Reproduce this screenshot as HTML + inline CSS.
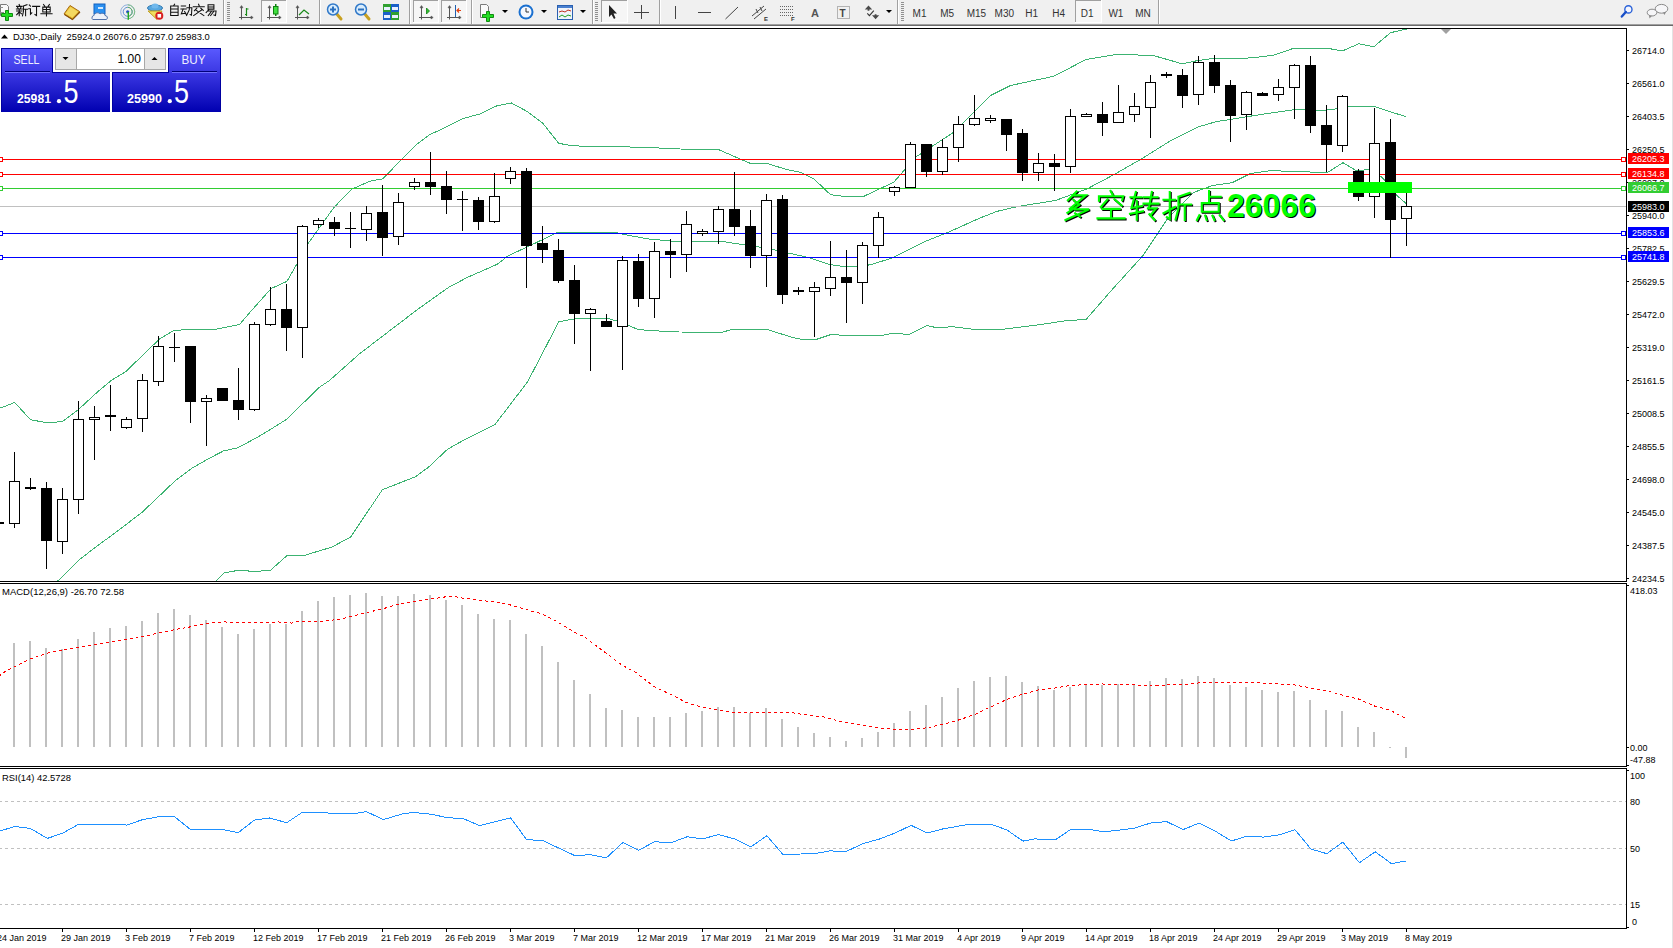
<!DOCTYPE html><html><head><meta charset="utf-8"><title>DJ30 Daily</title><style>
html,body{margin:0;padding:0;width:1673px;height:948px;overflow:hidden;background:#fff}
body{position:relative;font-family:"Liberation Sans",sans-serif}
svg{position:absolute;left:0;top:0}
.t{font-family:"Liberation Sans",sans-serif;font-size:9px;fill:#000}
</style></head><body>
<svg width="1673" height="948" viewBox="0 0 1673 948">
<g shape-rendering="crispEdges">
<rect x="0" y="0" width="1673" height="24" fill="#f0f0f0"/>
<rect x="0" y="24" width="1673" height="1" fill="#a0a0a0"/>
<rect x="0" y="25" width="1673" height="1" fill="#6a6a6a"/>
<rect x="1672" y="26" width="1" height="922" fill="#e3e3e3"/>
</g>
<g id="toolbar"><path d="M0.5,4.5 H6.5 L8.5,6.5 V15.5 H0.5 Z" fill="#fafafa" stroke="#7a7a7a"/>
<rect x="0" y="7" width="3" height="1" fill="#909090"/><rect x="0" y="12" width="4" height="1" fill="#909090"/>
<path d="M5.5,10.5 H8.5 V13.5 H12.5 V16.5 H8.5 V20.5 H5.5 V16.5 H1.5 V13.5 H5.5 Z" fill="#22dd22" stroke="#108a10"/>
<path d="M19.14,4.49 L19.72,5.77 M16.59,6.36 L22.08,6.36 M17.57,7.34 L18.16,8.51 M20.90,7.34 L20.31,8.51 M16.39,8.90 L22.27,8.90 M16.59,11.06 L21.88,11.06 M19.23,8.90 L19.23,15.76 M19.04,12.04 L16.59,14.78 M19.53,12.24 L21.68,13.80 M26.98,4.79 L23.45,6.06 M23.45,6.06 L23.45,11.55 L22.47,15.76 M23.45,9.30 L27.56,9.30 M25.60,9.30 L25.60,15.76" fill="none" stroke="#101010" stroke-width="1.05" stroke-linecap="square" stroke-linejoin="miter" />
<path d="M29.28,4.98 L30.46,6.16 M28.69,8.71 L30.46,8.71 L30.46,14.20 L31.83,12.82 M32.61,6.36 L39.67,6.36 M36.53,6.36 L36.53,15.57 L34.96,14.59" fill="none" stroke="#101010" stroke-width="1.05" stroke-linecap="square" stroke-linejoin="miter" />
<path d="M43.54,4.49 L44.72,6.16 M49.42,4.49 L48.24,6.16 M42.76,7.14 L50.20,7.14 L50.20,12.04 L42.76,12.04 L42.76,7.14 M42.76,9.59 L50.20,9.59 M46.48,7.14 L46.48,15.86 M40.89,13.80 L52.07,13.80" fill="none" stroke="#101010" stroke-width="1.05" stroke-linecap="square" stroke-linejoin="miter" />
<path d="M70,5.5 L79.5,11.5 L72.5,19.5 L64,14 Z" fill="#e8c030" stroke="#a86a10" stroke-width="1"/>
<path d="M70.5,7 L78,11.8 L72.5,17.5 L65.5,13.6 Z" fill="#f4d860"/>
<path d="M64.5,14.5 L72.5,19.5 L80,12" fill="none" stroke="#8a5008" stroke-width="1.2"/>
<rect x="94" y="4" width="11" height="10" fill="#2a90f0" stroke="#1060c0" stroke-width="1"/>
<rect x="98" y="7" width="5" height="2" fill="#d0e8ff"/>
<path d="M93,19.5 C91.5,19.5 91.5,15.5 94,15.5 C94.5,12.5 98.5,12 100,14 C101.5,12.5 104.5,13 105,15.5 C108,15.5 108,19.5 106,19.5 Z" fill="#eef2fa" stroke="#5070a8" stroke-width="1"/>
<circle cx="127.7" cy="11.8" r="7" fill="none" stroke="#8fb0e0" stroke-width="1"/>
<path d="M127.7,4.8 A7,7 0 0 1 127.7,18.8" fill="none" stroke="#80c080" stroke-width="1"/>
<circle cx="127.7" cy="11.8" r="4.5" fill="none" stroke="#6090d8" stroke-width="1"/>
<path d="M127.7,7.3 A4.5,4.5 0 0 1 127.7,16.3" fill="none" stroke="#60b060" stroke-width="1"/>
<circle cx="127.7" cy="11.8" r="1.6" fill="#2050c0"/>
<path d="M128.3,12 V19.8" fill="none" stroke="#22aa22" stroke-width="1.4"/>
<ellipse cx="155" cy="8" rx="7.5" ry="3" fill="#58a8e0" stroke="#3078b0" stroke-width="1"/>
<ellipse cx="155" cy="6" rx="3.5" ry="2.5" fill="#70b8ec"/>
<path d="M148,11 L162,11 L157,19.5 Z" fill="#f0e060" stroke="#c0a020" stroke-width="1"/>
<circle cx="159.3" cy="15.8" r="4" fill="#d82020"/>
<rect x="157.5" y="14" width="3.6" height="3.6" fill="#fff"/>
<path d="M174.58,4.20 L173.60,5.77 M170.66,5.96 L178.10,5.96 L178.10,15.57 L170.66,15.57 L170.66,5.96 M170.66,9.00 L178.10,9.00 M170.66,12.24 L178.10,12.24" fill="none" stroke="#101010" stroke-width="1.05" stroke-linecap="square" stroke-linejoin="miter" />
<path d="M181.29,5.96 L185.60,5.96 M180.90,8.90 L186.19,8.90 M183.25,8.90 L181.29,13.80 L185.80,13.22 M184.62,11.45 L186.19,14.39 M186.97,7.73 L191.87,7.73 L191.48,15.18 L190.11,14.59 M189.52,4.59 L189.32,9.69 L186.58,15.57" fill="none" stroke="#101010" stroke-width="1.05" stroke-linecap="square" stroke-linejoin="miter" />
<path d="M198.58,4.20 L199.17,5.77 M193.29,6.75 L204.27,6.75 M196.82,8.12 L194.47,10.67 M200.74,8.12 L203.29,10.47 M196.04,10.08 L203.88,15.57 M201.52,10.08 L193.68,15.57" fill="none" stroke="#101010" stroke-width="1.05" stroke-linecap="square" stroke-linejoin="miter" />
<path d="M208.04,4.79 L213.92,4.79 L213.92,9.10 L208.04,9.10 L208.04,4.79 M208.04,6.94 L213.92,6.94 M209.02,9.49 L206.08,12.63 M208.43,11.06 L216.08,11.06 L215.49,15.57 L213.92,14.98 M211.18,11.65 L208.24,15.57 M213.53,11.65 L210.59,15.57" fill="none" stroke="#101010" stroke-width="1.05" stroke-linecap="square" stroke-linejoin="miter" />
<rect x="223" y="0" width="1" height="24" fill="#a0a0a0"/><rect x="224" y="0" width="1" height="24" fill="#ffffff"/>
<rect x="227" y="2" width="3" height="1" fill="#909090"/>
<rect x="227" y="4" width="3" height="1" fill="#909090"/>
<rect x="227" y="6" width="3" height="1" fill="#909090"/>
<rect x="227" y="8" width="3" height="1" fill="#909090"/>
<rect x="227" y="10" width="3" height="1" fill="#909090"/>
<rect x="227" y="12" width="3" height="1" fill="#909090"/>
<rect x="227" y="14" width="3" height="1" fill="#909090"/>
<rect x="227" y="16" width="3" height="1" fill="#909090"/>
<rect x="227" y="18" width="3" height="1" fill="#909090"/>
<rect x="227" y="20" width="3" height="1" fill="#909090"/>
<path d="M241.5,6.5 V19.5 M239.0,17.5 H252.0" fill="none" stroke="#555" stroke-width="1"/>
<path d="M240.0,7.8 L241.5,5.6 L243.0,7.8 Z" fill="#555" stroke="#555" stroke-width="0.6"/>
<path d="M251.0,16 L253.2,17.5 L251.0,19 Z" fill="#555" stroke="#555" stroke-width="0.6"/>
<path d="M246.5,8 V16 M246.5,14.5 H245 M246.5,9 H248.5" fill="none" stroke="#1a8a1a" stroke-width="1.2"/>
<rect x="261" y="0" width="25" height="22" fill="#f6f6f6"/>
<rect x="261" y="0" width="1" height="22" fill="#a0a0a0"/><rect x="261" y="0" width="25" height="1" fill="#a0a0a0"/>
<rect x="286" y="0" width="1" height="23" fill="#ffffff"/><rect x="261" y="22" width="26" height="1" fill="#ffffff"/>
<path d="M269.5,6.5 V19.5 M267.0,17.5 H280.0" fill="none" stroke="#555" stroke-width="1"/>
<path d="M268.0,7.8 L269.5,5.6 L271.0,7.8 Z" fill="#555" stroke="#555" stroke-width="0.6"/>
<path d="M279.0,16 L281.2,17.5 L279.0,19 Z" fill="#555" stroke="#555" stroke-width="0.6"/>
<rect x="275" y="4" width="1.5" height="12" fill="#108010"/><rect x="273.5" y="6.5" width="4.5" height="7.5" fill="#40e040" stroke="#108010"/>
<path d="M297.5,6.5 V19.5 M295.0,17.5 H308.0" fill="none" stroke="#555" stroke-width="1"/>
<path d="M296.0,7.8 L297.5,5.6 L299.0,7.8 Z" fill="#555" stroke="#555" stroke-width="0.6"/>
<path d="M307.0,16 L309.2,17.5 L307.0,19 Z" fill="#555" stroke="#555" stroke-width="0.6"/>
<path d="M299,15 L304,10 L309,14" fill="none" stroke="#1a8a1a" stroke-width="1.2"/>
<rect x="319" y="0" width="1" height="24" fill="#a0a0a0"/><rect x="320" y="0" width="1" height="24" fill="#ffffff"/>
<path d="M336.0,13 L341.0,19" stroke="#c8a020" stroke-width="3" stroke-linecap="round"/>
<circle cx="333.0" cy="9.5" r="5.5" fill="#d8ecfc" stroke="#3078c8" stroke-width="1.5"/>
<rect x="330.0" y="8.5" width="6" height="2" fill="#2a70c0"/>
<rect x="332.0" y="6.5" width="2" height="6" fill="#2a70c0"/>
<path d="M364.0,13 L369.0,19" stroke="#c8a020" stroke-width="3" stroke-linecap="round"/>
<circle cx="361.0" cy="9.5" r="5.5" fill="#d8ecfc" stroke="#3078c8" stroke-width="1.5"/>
<rect x="358.0" y="8.5" width="6" height="2" fill="#2a70c0"/>
<rect x="383" y="4" width="16" height="16" fill="#1a60c8"/>
<rect x="383" y="4" width="8" height="8" fill="#30a030"/><rect x="391" y="12" width="8" height="8" fill="#30a030"/>
<rect x="384" y="7" width="6" height="3" fill="#e8f0ff"/>
<rect x="392" y="7" width="6" height="3" fill="#e8f0ff"/>
<rect x="384" y="15" width="6" height="3" fill="#e8f0ff"/>
<rect x="392" y="15" width="6" height="3" fill="#e8f0ff"/>
<rect x="409" y="0" width="1" height="24" fill="#a0a0a0"/><rect x="410" y="0" width="1" height="24" fill="#ffffff"/>
<rect x="413" y="0" width="25" height="22" fill="#f6f6f6"/>
<rect x="413" y="0" width="1" height="22" fill="#a0a0a0"/><rect x="413" y="0" width="25" height="1" fill="#a0a0a0"/>
<rect x="438" y="0" width="1" height="23" fill="#ffffff"/><rect x="413" y="22" width="26" height="1" fill="#ffffff"/>
<path d="M421.5,6.5 V19.5 M419.0,17.5 H432.0" fill="none" stroke="#555" stroke-width="1"/>
<path d="M420.0,7.8 L421.5,5.6 L423.0,7.8 Z" fill="#555" stroke="#555" stroke-width="0.6"/>
<path d="M431.0,16 L433.2,17.5 L431.0,19 Z" fill="#555" stroke="#555" stroke-width="0.6"/>
<path d="M426.5,8 L429.5,11 L426.5,14 Z" fill="#30c030" stroke="#108010" stroke-width="0.8"/>
<rect x="441" y="0" width="25" height="22" fill="#f6f6f6"/>
<rect x="441" y="0" width="1" height="22" fill="#a0a0a0"/><rect x="441" y="0" width="25" height="1" fill="#a0a0a0"/>
<rect x="466" y="0" width="1" height="23" fill="#ffffff"/><rect x="441" y="22" width="26" height="1" fill="#ffffff"/>
<path d="M449.5,6.5 V19.5 M447.0,17.5 H460.0" fill="none" stroke="#555" stroke-width="1"/>
<path d="M448.0,7.8 L449.5,5.6 L451.0,7.8 Z" fill="#555" stroke="#555" stroke-width="0.6"/>
<path d="M459.0,16 L461.2,17.5 L459.0,19 Z" fill="#555" stroke="#555" stroke-width="0.6"/>
<rect x="455" y="5" width="1" height="12" fill="#2060b0"/><path d="M461,10.5 H457 M459,8.5 L457,10.5 L459,12.5" fill="none" stroke="#e04010" stroke-width="1.2"/>
<rect x="471" y="0" width="1" height="24" fill="#a0a0a0"/><rect x="472" y="0" width="1" height="24" fill="#ffffff"/>
<path d="M480.5,4.5 H486.5 L488.5,6.5 V17.5 H480.5 Z" fill="#fafafa" stroke="#7a7a7a"/>
<path d="M486.5,11.5 H489.5 V14.5 H493.5 V17.5 H489.5 V21.5 H486.5 V17.5 H482.5 V14.5 H486.5 Z" fill="#22dd22" stroke="#108a10"/>
<path d="M502,10 H508 L505.0,13 Z" fill="#000"/>
<circle cx="526" cy="12" r="7.5" fill="#1a70d0"/><circle cx="526" cy="12" r="5.5" fill="#f4f8ff"/>
<path d="M526,8 V12 H529" fill="none" stroke="#333" stroke-width="1"/>
<path d="M541,10 H547 L544.0,13 Z" fill="#000"/>
<rect x="557.5" y="5.5" width="15" height="14" fill="#f0f4fa" stroke="#2a60b0"/><rect x="558" y="6" width="14" height="2" fill="#4a80d0"/>
<path d="M559,12 L562,11 L565,12 L568,10 L571,11" fill="none" stroke="#c03020"/><path d="M559,17 L562,15 L565,17 L568,15 L571,16" fill="none" stroke="#20a020"/>
<path d="M580,10 H586 L583.0,13 Z" fill="#000"/>
<rect x="592" y="0" width="1" height="24" fill="#a0a0a0"/><rect x="593" y="0" width="1" height="24" fill="#ffffff"/>
<rect x="595" y="2" width="3" height="1" fill="#909090"/>
<rect x="595" y="4" width="3" height="1" fill="#909090"/>
<rect x="595" y="6" width="3" height="1" fill="#909090"/>
<rect x="595" y="8" width="3" height="1" fill="#909090"/>
<rect x="595" y="10" width="3" height="1" fill="#909090"/>
<rect x="595" y="12" width="3" height="1" fill="#909090"/>
<rect x="595" y="14" width="3" height="1" fill="#909090"/>
<rect x="595" y="16" width="3" height="1" fill="#909090"/>
<rect x="595" y="18" width="3" height="1" fill="#909090"/>
<rect x="595" y="20" width="3" height="1" fill="#909090"/>
<rect x="601" y="0" width="26" height="22" fill="#f6f6f6"/>
<rect x="601" y="0" width="1" height="22" fill="#a0a0a0"/><rect x="601" y="0" width="26" height="1" fill="#a0a0a0"/>
<rect x="627" y="0" width="1" height="23" fill="#ffffff"/><rect x="601" y="22" width="27" height="1" fill="#ffffff"/>
<path d="M609,5 V17 L611.5,14.5 L614,19 L615.5,18 L613.5,13.5 L617,13.5 Z" fill="#222"/>
<path d="M641.5,5 V19 M634,12.5 H649" stroke="#444" stroke-width="1"/>
<rect x="659" y="0" width="1" height="24" fill="#a0a0a0"/><rect x="660" y="0" width="1" height="24" fill="#ffffff"/>
<rect x="675" y="6" width="1" height="13" fill="#444"/>
<rect x="698" y="12" width="13" height="1" fill="#444"/>
<path d="M725.5,19 L738,7" stroke="#444" stroke-width="1"/>
<path d="M752,16 L764,6 M754,19 L766,9 M756,9 L758,13 M760,7 L762,11" stroke="#444" stroke-width="1" fill="none"/>
<text x="764" y="21" font-family="Liberation Sans" font-size="6" font-weight="bold" fill="#333">E</text>
<path d="M780,6.5 H793" stroke="#666" stroke-width="1" stroke-dasharray="1 1"/>
<path d="M780,9.5 H793" stroke="#666" stroke-width="1" stroke-dasharray="1 1"/>
<path d="M780,12.5 H793" stroke="#666" stroke-width="1" stroke-dasharray="1 1"/>
<path d="M780,15.5 H793" stroke="#666" stroke-width="1" stroke-dasharray="1 1"/>
<text x="791" y="21" font-family="Liberation Sans" font-size="6" font-weight="bold" fill="#333">F</text>
<text x="811" y="17" font-family="Liberation Sans" font-size="11" font-weight="bold" fill="#555">A</text>
<rect x="837.5" y="6.5" width="12" height="12" fill="none" stroke="#777" stroke-dasharray="1 1"/>
<text x="839.5" y="16.5" font-family="Liberation Sans" font-size="10" font-weight="bold" fill="#444">T</text>
<path d="M864.8,9.6 L868.5,5.6 L872.2,9.6 Z M867.6,9.5 H869.4 V10.8 H867.6 Z M872,15.2 H879.2 L875.6,19.2 Z M874.7,14.2 H876.5 V15.4 H874.7 Z" fill="#4a4a4a"/><path d="M867.3,13.4 L869.4,15.6 L873.8,10.6" fill="none" stroke="#333" stroke-width="1.1"/>
<path d="M886,10 H892 L889.0,13 Z" fill="#000"/>
<rect x="897" y="0" width="1" height="24" fill="#a0a0a0"/><rect x="898" y="0" width="1" height="24" fill="#ffffff"/>
<rect x="901" y="2" width="3" height="1" fill="#909090"/>
<rect x="901" y="4" width="3" height="1" fill="#909090"/>
<rect x="901" y="6" width="3" height="1" fill="#909090"/>
<rect x="901" y="8" width="3" height="1" fill="#909090"/>
<rect x="901" y="10" width="3" height="1" fill="#909090"/>
<rect x="901" y="12" width="3" height="1" fill="#909090"/>
<rect x="901" y="14" width="3" height="1" fill="#909090"/>
<rect x="901" y="16" width="3" height="1" fill="#909090"/>
<rect x="901" y="18" width="3" height="1" fill="#909090"/>
<rect x="901" y="20" width="3" height="1" fill="#909090"/>
<rect x="1075" y="0" width="26" height="22" fill="#f6f6f6"/>
<rect x="1075" y="0" width="1" height="22" fill="#a0a0a0"/><rect x="1075" y="0" width="26" height="1" fill="#a0a0a0"/>
<rect x="1101" y="0" width="1" height="23" fill="#ffffff"/><rect x="1075" y="22" width="27" height="1" fill="#ffffff"/>
<text x="912.6" y="16.5" font-family="Liberation Sans" font-size="10" fill="#333">M1</text>
<text x="940.2" y="16.5" font-family="Liberation Sans" font-size="10" fill="#333">M5</text>
<text x="966.7" y="16.5" font-family="Liberation Sans" font-size="10" fill="#333">M15</text>
<text x="994.6" y="16.5" font-family="Liberation Sans" font-size="10" fill="#333">M30</text>
<text x="1025.2" y="16.5" font-family="Liberation Sans" font-size="10" fill="#333">H1</text>
<text x="1052.3" y="16.5" font-family="Liberation Sans" font-size="10" fill="#333">H4</text>
<text x="1080.8" y="16.5" font-family="Liberation Sans" font-size="10" fill="#333">D1</text>
<text x="1108.4" y="16.5" font-family="Liberation Sans" font-size="10" fill="#333">W1</text>
<text x="1135.2" y="16.5" font-family="Liberation Sans" font-size="10" fill="#333">MN</text>
<rect x="1158" y="0" width="1" height="24" fill="#a0a0a0"/><rect x="1159" y="0" width="1" height="24" fill="#ffffff"/>
<circle cx="1628.4" cy="9.4" r="3.6" fill="#f4f6ff" stroke="#2a62d8" stroke-width="1.4"/>
<path d="M1625.8,12 L1621.8,16.5" stroke="#1a50c8" stroke-width="2.4" stroke-linecap="round"/>
<ellipse cx="1661.5" cy="8.8" rx="6.3" ry="4.4" fill="#f6f6f8" stroke="#8a8a8a" stroke-width="1"/>
<path d="M1663,12.5 L1664.5,15 L1666,12" fill="#8a8a8a"/>
<ellipse cx="1652" cy="12.6" rx="4.8" ry="3.4" fill="#f6f6f8" stroke="#8a8a8a" stroke-width="1"/>
<path d="M1649,15.5 L1649.5,18.5 L1652,15.8" fill="#8a8a8a"/></g>
<g shape-rendering="crispEdges" fill="#000">
<rect x="0" y="28" width="1627" height="1"/>
<rect x="1626" y="28" width="1" height="554"/>
<rect x="1626" y="583" width="1" height="184"/>
<rect x="1626" y="768" width="1" height="161"/>
<rect x="0" y="581" width="1627" height="1"/>
<rect x="0" y="583" width="1627" height="1"/>
<rect x="0" y="766" width="1627" height="1"/>
<rect x="0" y="768" width="1627" height="1"/>
<rect x="0" y="928" width="1627" height="1"/>
<rect x="1627" y="50" width="2" height="1"/>
<rect x="1627" y="83" width="2" height="1"/>
<rect x="1627" y="116" width="2" height="1"/>
<rect x="1627" y="149" width="2" height="1"/>
<rect x="1627" y="182" width="2" height="1"/>
<rect x="1627" y="215" width="2" height="1"/>
<rect x="1627" y="248" width="2" height="1"/>
<rect x="1627" y="281" width="2" height="1"/>
<rect x="1627" y="314" width="2" height="1"/>
<rect x="1627" y="347" width="2" height="1"/>
<rect x="1627" y="380" width="2" height="1"/>
<rect x="1627" y="413" width="2" height="1"/>
<rect x="1627" y="446" width="2" height="1"/>
<rect x="1627" y="479" width="2" height="1"/>
<rect x="1627" y="512" width="2" height="1"/>
<rect x="1627" y="545" width="2" height="1"/>
<rect x="1627" y="578" width="2" height="1"/>
<rect x="1627" y="585" width="2" height="1"/>
<rect x="1627" y="747" width="2" height="1"/>
<rect x="1627" y="765" width="2" height="1"/>
<rect x="1627" y="770" width="2" height="1"/>
<rect x="1627" y="927" width="2" height="1"/>
<rect x="62" y="929" width="1" height="3"/>
<rect x="126" y="929" width="1" height="3"/>
<rect x="190" y="929" width="1" height="3"/>
<rect x="254" y="929" width="1" height="3"/>
<rect x="318" y="929" width="1" height="3"/>
<rect x="382" y="929" width="1" height="3"/>
<rect x="446" y="929" width="1" height="3"/>
<rect x="510" y="929" width="1" height="3"/>
<rect x="574" y="929" width="1" height="3"/>
<rect x="638" y="929" width="1" height="3"/>
<rect x="702" y="929" width="1" height="3"/>
<rect x="766" y="929" width="1" height="3"/>
<rect x="830" y="929" width="1" height="3"/>
<rect x="894" y="929" width="1" height="3"/>
<rect x="958" y="929" width="1" height="3"/>
<rect x="1022" y="929" width="1" height="3"/>
<rect x="1086" y="929" width="1" height="3"/>
<rect x="1150" y="929" width="1" height="3"/>
<rect x="1214" y="929" width="1" height="3"/>
<rect x="1278" y="929" width="1" height="3"/>
<rect x="1342" y="929" width="1" height="3"/>
<rect x="1406" y="929" width="1" height="3"/>
</g>
<defs><clipPath id="cm"><rect x="0" y="29" width="1626" height="552"/></clipPath>
<clipPath id="cmacd"><rect x="0" y="584" width="1626" height="182"/></clipPath>
<clipPath id="crsi"><rect x="0" y="769" width="1626" height="159"/></clipPath></defs>
<g clip-path="url(#cm)">
<g fill="none" stroke="#3cb371" stroke-width="1" shape-rendering="crispEdges">
<polyline points="0.5,408.0 14.7,402.5 30.5,419.7 45.5,422.5 62.2,421.8 78.8,409.2 97.2,392.2 112.2,379.7 125.6,371.8 151.5,346.7 159.6,339.0 174.4,330.1 214.5,329.5 239.5,324.5 253.3,308.5 271.2,288.5 287.0,281.3 297.0,263.8 308.5,243.0 333.5,208.0 351.2,189.5 369.5,181.3 382.8,178.8 400.5,160.6 416.6,144.4 429.5,134.7 440.3,129.8 462.9,118.6 480.1,113.9 495.2,106.3 511.3,102.9 527.5,111.7 542.5,122.9 558.7,143.3 572.7,145.9 615.7,146.6 648.0,147.5 680.3,149.0 719.0,149.8 736.2,157.3 751.3,163.8 767.2,163.5 787.2,169.7 800.5,172.2 813.8,178.8 830.5,194.7 843.8,196.3 863.8,196.3 893.8,182.2 915.5,157.2 953.8,132.2 990.5,95.5 1010.5,85.5 1033.8,80.5 1053.8,76.3 1086.0,59.5 1114.5,54.7 1152.2,55.2 1182.2,63.8 1195.5,61.0 1210.5,58.8 1238.8,58.5 1253.8,57.7 1273.8,55.2 1293.8,48.2 1327.2,48.2 1342.2,51.0 1358.8,43.8 1373.8,46.8 1390.5,32.7 1406.5,29.0"/>
<polyline points="57.2,581.5 80.5,558.8 93.8,548.5 117.2,531.3 142.2,512.2 175.5,480.5 192.2,468.0 208.8,458.5 223.8,450.8 237.2,448.0 256.2,438.0 270.5,429.4 286.3,419.5 319.5,387.2 329.5,380.5 359.5,353.8 417.5,309.5 448.8,287.2 467.2,277.5 497.2,264.3 508.0,255.9 535.5,243.0 557.2,232.5 615.5,232.5 625.5,234.7 647.2,238.8 670.5,241.0 718.8,241.0 743.8,244.7 760.5,247.2 777.2,250.5 807.2,257.2 830.5,264.7 845.5,266.7 857.2,266.7 870.5,264.7 892.2,258.0 925.5,241.3 948.5,232.2 978.8,218.5 997.2,211.3 1018.8,206.3 1055.5,200.5 1087.2,188.8 1113.8,174.7 1140.5,159.5 1168.8,141.8 1198.8,126.8 1215.5,121.8 1262.2,114.3 1293.8,109.8 1307.2,109.8 1320.5,110.7 1335.5,109.0 1348.8,106.8 1375.5,106.8 1390.5,111.8 1406.3,116.8"/>
<polyline points="215.5,581.5 223.8,573.0 237.2,570.5 247.2,570.5 250.5,571.8 270.5,570.3 287.0,555.6 303.8,555.6 331.7,547.1 350.7,537.0 382.3,489.8 416.0,476.5 428.7,467.0 447.7,449.1 466.7,438.5 495.1,424.4 527.8,381.5 558.8,321.8 567.2,320.2 574.7,318.8 608.8,318.8 617.2,321.0 638.8,329.7 663.8,331.3 678.5,332.0 722.2,332.2 731.3,329.7 768.0,329.7 777.2,332.7 797.2,338.8 808.0,339.7 815.5,339.7 830.5,334.7 838.8,334.7 840.5,335.8 880.5,335.8 893.8,333.0 908.8,334.7 927.2,325.5 935.5,327.5 953.2,326.8 972.1,329.1 1003.8,329.1 1035.4,325.3 1067.1,320.5 1086.0,319.6 1111.3,290.5 1143.0,255.6 1168.3,217.7 1193.6,192.4 1212.6,185.5 1232.2,182.7 1250.5,173.5 1270.5,170.7 1303.8,171.7 1327.0,172.8 1343.0,162.7 1356.5,170.8 1369.5,169.5 1380.6,176.3 1386.5,182.2 1396.9,195.5 1407.2,204.4"/>
</g>
<g shape-rendering="crispEdges">
<rect x="0" y="206" width="1626" height="1" fill="#c0c0c0"/>
<rect x="0" y="159" width="1621" height="1" fill="#ff0000"/>
<rect x="-2" y="157" width="5" height="5" fill="#ff0000"/>
<rect x="-1" y="158" width="3" height="3" fill="#fff"/>
<rect x="1621" y="157" width="5" height="5" fill="#ff0000"/>
<rect x="1622" y="158" width="3" height="3" fill="#fff"/>
<rect x="0" y="174" width="1621" height="1" fill="#ff0000"/>
<rect x="-2" y="172" width="5" height="5" fill="#ff0000"/>
<rect x="-1" y="173" width="3" height="3" fill="#fff"/>
<rect x="1621" y="172" width="5" height="5" fill="#ff0000"/>
<rect x="1622" y="173" width="3" height="3" fill="#fff"/>
<rect x="0" y="188" width="1621" height="1" fill="#32cd32"/>
<rect x="-2" y="186" width="5" height="5" fill="#32cd32"/>
<rect x="-1" y="187" width="3" height="3" fill="#fff"/>
<rect x="1621" y="186" width="5" height="5" fill="#32cd32"/>
<rect x="1622" y="187" width="3" height="3" fill="#fff"/>
<rect x="0" y="233" width="1621" height="1" fill="#0000ff"/>
<rect x="-2" y="231" width="5" height="5" fill="#0000ff"/>
<rect x="-1" y="232" width="3" height="3" fill="#fff"/>
<rect x="1621" y="231" width="5" height="5" fill="#0000ff"/>
<rect x="1622" y="232" width="3" height="3" fill="#fff"/>
<rect x="0" y="257" width="1621" height="1" fill="#0000ff"/>
<rect x="-2" y="255" width="5" height="5" fill="#0000ff"/>
<rect x="-1" y="256" width="3" height="3" fill="#fff"/>
<rect x="1621" y="255" width="5" height="5" fill="#0000ff"/>
<rect x="1622" y="256" width="3" height="3" fill="#fff"/>
</g>
<g shape-rendering="crispEdges" fill="#000">
<rect x="-2" y="522" width="1" height="2"/>
<rect x="-7" y="522" width="11" height="2"/>
<rect x="14" y="452" width="1" height="76"/>
<rect x="9" y="481" width="11" height="43"/>
<rect x="10" y="482" width="9" height="41" fill="#fff"/>
<rect x="30" y="478" width="1" height="12"/>
<rect x="25" y="487" width="11" height="2"/>
<rect x="46" y="482" width="1" height="87"/>
<rect x="41" y="488" width="11" height="53"/>
<rect x="62" y="488" width="1" height="66"/>
<rect x="57" y="499" width="11" height="43"/>
<rect x="58" y="500" width="9" height="41" fill="#fff"/>
<rect x="78" y="401" width="1" height="113"/>
<rect x="73" y="419" width="11" height="81"/>
<rect x="74" y="420" width="9" height="79" fill="#fff"/>
<rect x="94" y="406" width="1" height="54"/>
<rect x="89" y="417" width="11" height="3"/>
<rect x="90" y="418" width="9" height="1" fill="#fff"/>
<rect x="110" y="385" width="1" height="46"/>
<rect x="105" y="415" width="11" height="2"/>
<rect x="126" y="417" width="1" height="12"/>
<rect x="121" y="419" width="11" height="9"/>
<rect x="122" y="420" width="9" height="7" fill="#fff"/>
<rect x="142" y="374" width="1" height="58"/>
<rect x="137" y="380" width="11" height="39"/>
<rect x="138" y="381" width="9" height="37" fill="#fff"/>
<rect x="158" y="336" width="1" height="50"/>
<rect x="153" y="346" width="11" height="36"/>
<rect x="154" y="347" width="9" height="34" fill="#fff"/>
<rect x="174" y="333" width="1" height="29"/>
<rect x="169" y="347" width="11" height="1"/>
<rect x="190" y="346" width="1" height="77"/>
<rect x="185" y="346" width="11" height="56"/>
<rect x="206" y="395" width="1" height="51"/>
<rect x="201" y="398" width="11" height="4"/>
<rect x="202" y="399" width="9" height="2" fill="#fff"/>
<rect x="222" y="388" width="1" height="13"/>
<rect x="217" y="388" width="11" height="13"/>
<rect x="238" y="368" width="1" height="52"/>
<rect x="233" y="400" width="11" height="10"/>
<rect x="254" y="322" width="1" height="89"/>
<rect x="249" y="324" width="11" height="86"/>
<rect x="250" y="325" width="9" height="84" fill="#fff"/>
<rect x="270" y="287" width="1" height="39"/>
<rect x="265" y="309" width="11" height="16"/>
<rect x="266" y="310" width="9" height="14" fill="#fff"/>
<rect x="286" y="284" width="1" height="67"/>
<rect x="281" y="309" width="11" height="19"/>
<rect x="302" y="225" width="1" height="133"/>
<rect x="297" y="226" width="11" height="102"/>
<rect x="298" y="227" width="9" height="100" fill="#fff"/>
<rect x="318" y="218" width="1" height="10"/>
<rect x="313" y="220" width="11" height="5"/>
<rect x="314" y="221" width="9" height="3" fill="#fff"/>
<rect x="334" y="217" width="1" height="19"/>
<rect x="329" y="222" width="11" height="7"/>
<rect x="350" y="212" width="1" height="36"/>
<rect x="345" y="228" width="11" height="1"/>
<rect x="366" y="206" width="1" height="35"/>
<rect x="361" y="213" width="11" height="17"/>
<rect x="362" y="214" width="9" height="15" fill="#fff"/>
<rect x="382" y="185" width="1" height="71"/>
<rect x="377" y="212" width="11" height="26"/>
<rect x="398" y="193" width="1" height="52"/>
<rect x="393" y="202" width="11" height="35"/>
<rect x="394" y="203" width="9" height="33" fill="#fff"/>
<rect x="414" y="178" width="1" height="12"/>
<rect x="409" y="182" width="11" height="5"/>
<rect x="410" y="183" width="9" height="3" fill="#fff"/>
<rect x="430" y="152" width="1" height="43"/>
<rect x="425" y="182" width="11" height="5"/>
<rect x="446" y="171" width="1" height="43"/>
<rect x="441" y="186" width="11" height="14"/>
<rect x="462" y="191" width="1" height="40"/>
<rect x="457" y="199" width="11" height="1"/>
<rect x="478" y="197" width="1" height="33"/>
<rect x="473" y="200" width="11" height="22"/>
<rect x="494" y="173" width="1" height="50"/>
<rect x="489" y="196" width="11" height="26"/>
<rect x="490" y="197" width="9" height="24" fill="#fff"/>
<rect x="510" y="167" width="1" height="17"/>
<rect x="505" y="171" width="11" height="8"/>
<rect x="506" y="172" width="9" height="6" fill="#fff"/>
<rect x="526" y="168" width="1" height="120"/>
<rect x="521" y="171" width="11" height="75"/>
<rect x="542" y="226" width="1" height="37"/>
<rect x="537" y="243" width="11" height="7"/>
<rect x="558" y="239" width="1" height="44"/>
<rect x="553" y="250" width="11" height="31"/>
<rect x="574" y="265" width="1" height="79"/>
<rect x="569" y="280" width="11" height="34"/>
<rect x="590" y="308" width="1" height="63"/>
<rect x="585" y="309" width="11" height="5"/>
<rect x="586" y="310" width="9" height="3" fill="#fff"/>
<rect x="606" y="314" width="1" height="13"/>
<rect x="601" y="321" width="11" height="6"/>
<rect x="622" y="256" width="1" height="114"/>
<rect x="617" y="260" width="11" height="67"/>
<rect x="618" y="261" width="9" height="65" fill="#fff"/>
<rect x="638" y="254" width="1" height="53"/>
<rect x="633" y="261" width="11" height="38"/>
<rect x="654" y="242" width="1" height="76"/>
<rect x="649" y="251" width="11" height="48"/>
<rect x="650" y="252" width="9" height="46" fill="#fff"/>
<rect x="670" y="239" width="1" height="39"/>
<rect x="665" y="251" width="11" height="4"/>
<rect x="686" y="211" width="1" height="61"/>
<rect x="681" y="224" width="11" height="31"/>
<rect x="682" y="225" width="9" height="29" fill="#fff"/>
<rect x="702" y="229" width="1" height="7"/>
<rect x="697" y="231" width="11" height="3"/>
<rect x="698" y="232" width="9" height="1" fill="#fff"/>
<rect x="718" y="206" width="1" height="38"/>
<rect x="713" y="209" width="11" height="23"/>
<rect x="714" y="210" width="9" height="21" fill="#fff"/>
<rect x="734" y="172" width="1" height="64"/>
<rect x="729" y="209" width="11" height="18"/>
<rect x="750" y="210" width="1" height="58"/>
<rect x="745" y="226" width="11" height="30"/>
<rect x="766" y="194" width="1" height="93"/>
<rect x="761" y="200" width="11" height="56"/>
<rect x="762" y="201" width="9" height="54" fill="#fff"/>
<rect x="782" y="195" width="1" height="109"/>
<rect x="777" y="199" width="11" height="96"/>
<rect x="798" y="287" width="1" height="8"/>
<rect x="793" y="290" width="11" height="2"/>
<rect x="814" y="282" width="1" height="55"/>
<rect x="809" y="287" width="11" height="5"/>
<rect x="810" y="288" width="9" height="3" fill="#fff"/>
<rect x="830" y="241" width="1" height="55"/>
<rect x="825" y="277" width="11" height="12"/>
<rect x="826" y="278" width="9" height="10" fill="#fff"/>
<rect x="846" y="250" width="1" height="73"/>
<rect x="841" y="277" width="11" height="6"/>
<rect x="862" y="242" width="1" height="62"/>
<rect x="857" y="245" width="11" height="38"/>
<rect x="858" y="246" width="9" height="36" fill="#fff"/>
<rect x="878" y="212" width="1" height="46"/>
<rect x="873" y="217" width="11" height="29"/>
<rect x="874" y="218" width="9" height="27" fill="#fff"/>
<rect x="894" y="186" width="1" height="10"/>
<rect x="889" y="187" width="11" height="5"/>
<rect x="890" y="188" width="9" height="3" fill="#fff"/>
<rect x="910" y="142" width="1" height="46"/>
<rect x="905" y="144" width="11" height="44"/>
<rect x="906" y="145" width="9" height="42" fill="#fff"/>
<rect x="926" y="144" width="1" height="33"/>
<rect x="921" y="144" width="11" height="28"/>
<rect x="942" y="139" width="1" height="36"/>
<rect x="937" y="147" width="11" height="25"/>
<rect x="938" y="148" width="9" height="23" fill="#fff"/>
<rect x="958" y="116" width="1" height="46"/>
<rect x="953" y="124" width="11" height="24"/>
<rect x="954" y="125" width="9" height="22" fill="#fff"/>
<rect x="974" y="95" width="1" height="31"/>
<rect x="969" y="118" width="11" height="7"/>
<rect x="970" y="119" width="9" height="5" fill="#fff"/>
<rect x="990" y="115" width="1" height="8"/>
<rect x="985" y="118" width="11" height="3"/>
<rect x="986" y="119" width="9" height="1" fill="#fff"/>
<rect x="1006" y="119" width="1" height="32"/>
<rect x="1001" y="119" width="11" height="16"/>
<rect x="1022" y="129" width="1" height="52"/>
<rect x="1017" y="133" width="11" height="40"/>
<rect x="1038" y="153" width="1" height="28"/>
<rect x="1033" y="163" width="11" height="10"/>
<rect x="1034" y="164" width="9" height="8" fill="#fff"/>
<rect x="1054" y="154" width="1" height="37"/>
<rect x="1049" y="163" width="11" height="4"/>
<rect x="1070" y="109" width="1" height="64"/>
<rect x="1065" y="116" width="11" height="51"/>
<rect x="1066" y="117" width="9" height="49" fill="#fff"/>
<rect x="1086" y="113" width="1" height="4"/>
<rect x="1081" y="114" width="11" height="3"/>
<rect x="1082" y="115" width="9" height="1" fill="#fff"/>
<rect x="1102" y="102" width="1" height="34"/>
<rect x="1097" y="114" width="11" height="9"/>
<rect x="1118" y="85" width="1" height="38"/>
<rect x="1113" y="112" width="11" height="11"/>
<rect x="1114" y="113" width="9" height="9" fill="#fff"/>
<rect x="1134" y="93" width="1" height="29"/>
<rect x="1129" y="106" width="11" height="9"/>
<rect x="1130" y="107" width="9" height="7" fill="#fff"/>
<rect x="1150" y="75" width="1" height="63"/>
<rect x="1145" y="82" width="11" height="26"/>
<rect x="1146" y="83" width="9" height="24" fill="#fff"/>
<rect x="1166" y="72" width="1" height="6"/>
<rect x="1161" y="74" width="11" height="2"/>
<rect x="1182" y="69" width="1" height="39"/>
<rect x="1177" y="75" width="11" height="21"/>
<rect x="1198" y="56" width="1" height="49"/>
<rect x="1193" y="62" width="11" height="33"/>
<rect x="1194" y="63" width="9" height="31" fill="#fff"/>
<rect x="1214" y="55" width="1" height="38"/>
<rect x="1209" y="62" width="11" height="24"/>
<rect x="1230" y="80" width="1" height="62"/>
<rect x="1225" y="85" width="11" height="31"/>
<rect x="1246" y="91" width="1" height="39"/>
<rect x="1241" y="92" width="11" height="23"/>
<rect x="1242" y="93" width="9" height="21" fill="#fff"/>
<rect x="1262" y="92" width="1" height="4"/>
<rect x="1257" y="93" width="11" height="3"/>
<rect x="1278" y="79" width="1" height="22"/>
<rect x="1273" y="87" width="11" height="8"/>
<rect x="1274" y="88" width="9" height="6" fill="#fff"/>
<rect x="1294" y="64" width="1" height="55"/>
<rect x="1289" y="65" width="11" height="23"/>
<rect x="1290" y="66" width="9" height="21" fill="#fff"/>
<rect x="1310" y="56" width="1" height="77"/>
<rect x="1305" y="65" width="11" height="61"/>
<rect x="1326" y="105" width="1" height="67"/>
<rect x="1321" y="125" width="11" height="20"/>
<rect x="1342" y="95" width="1" height="57"/>
<rect x="1337" y="96" width="11" height="50"/>
<rect x="1338" y="97" width="9" height="48" fill="#fff"/>
<rect x="1358" y="169" width="1" height="32"/>
<rect x="1353" y="171" width="11" height="26"/>
<rect x="1374" y="108" width="1" height="110"/>
<rect x="1369" y="143" width="11" height="54"/>
<rect x="1370" y="144" width="9" height="52" fill="#fff"/>
<rect x="1390" y="119" width="1" height="139"/>
<rect x="1385" y="142" width="11" height="78"/>
<rect x="1406" y="186" width="1" height="60"/>
<rect x="1401" y="206" width="11" height="13"/>
<rect x="1402" y="207" width="9" height="11" fill="#fff"/>
</g>
<rect x="1348" y="182" width="64" height="11" fill="#00ff00" shape-rendering="crispEdges"/>
<polygon points="1441,29 1451,29 1446,34" fill="#a0a0a0"/>
<g id="bigtext"><path d="M1077.57,192.48 L1068.86,201.20 M1073.70,196.36 L1086.76,196.36 L1070.79,209.91 M1074.18,200.71 L1079.02,205.07 M1080.47,205.55 L1068.37,213.78 M1076.12,210.39 L1090.15,210.39 L1066.44,221.04 M1076.12,214.26 L1080.96,217.65" fill="none" stroke="#000" stroke-width="2.10" stroke-linecap="square" stroke-linejoin="miter" />
<path d="M1111.54,192.00 L1113.47,195.39 M1099.92,201.68 L1099.92,197.32 L1124.12,197.32 L1123.15,201.20 M1108.63,200.23 L1101.86,207.97 M1115.41,200.23 L1122.67,206.52 M1103.31,209.91 L1120.73,209.91 M1112.02,209.91 L1112.02,219.10 M1098.47,219.35 L1125.57,219.35" fill="none" stroke="#000" stroke-width="2.10" stroke-linecap="square" stroke-linejoin="miter" />
<path d="M1131.47,198.29 L1142.60,198.29 M1136.79,192.97 L1132.44,208.94 L1143.08,207.00 M1137.76,202.16 L1137.76,220.80 M1130.98,214.75 L1144.05,212.33 M1145.02,198.29 L1158.57,198.29 M1144.54,204.58 L1159.54,204.58 M1152.76,192.97 L1149.86,209.42 M1148.89,209.42 L1157.12,209.42 L1151.80,215.72 M1150.34,215.23 L1155.67,221.04" fill="none" stroke="#000" stroke-width="2.10" stroke-linecap="square" stroke-linejoin="miter" />
<path d="M1164.47,200.71 L1176.08,200.71 M1170.76,192.97 L1170.76,220.07 L1167.86,218.14 M1164.47,214.26 L1176.08,207.97 M1190.60,193.94 L1179.47,197.81 M1179.47,197.81 L1179.47,208.94 L1176.57,220.56 M1179.47,205.55 L1192.06,205.55 M1185.76,205.55 L1185.76,221.04" fill="none" stroke="#000" stroke-width="2.10" stroke-linecap="square" stroke-linejoin="miter" />
<path d="M1210.05,192.00 L1210.05,204.10 M1210.05,197.81 L1221.67,197.81 M1202.79,204.10 L1219.73,204.10 L1219.73,212.81 L1202.79,212.81 L1202.79,204.10 M1200.37,216.20 L1197.95,221.04 M1206.18,216.68 L1207.63,221.04 M1213.44,216.68 L1215.38,221.04 M1220.70,216.20 L1224.57,221.04" fill="none" stroke="#000" stroke-width="2.10" stroke-linecap="square" stroke-linejoin="miter" />
<path d="M1076.57,191.48 L1067.86,200.20 M1072.70,195.36 L1085.76,195.36 L1069.79,208.91 M1073.18,199.71 L1078.02,204.07 M1079.47,204.55 L1067.37,212.78 M1075.12,209.39 L1089.15,209.39 L1065.44,220.04 M1075.12,213.26 L1079.96,216.65" fill="none" stroke="#00ff00" stroke-width="2.10" stroke-linecap="square" stroke-linejoin="miter" />
<path d="M1110.54,191.00 L1112.47,194.39 M1098.92,200.68 L1098.92,196.32 L1123.12,196.32 L1122.15,200.20 M1107.63,199.23 L1100.86,206.97 M1114.41,199.23 L1121.67,205.52 M1102.31,208.91 L1119.73,208.91 M1111.02,208.91 L1111.02,218.10 M1097.47,218.35 L1124.57,218.35" fill="none" stroke="#00ff00" stroke-width="2.10" stroke-linecap="square" stroke-linejoin="miter" />
<path d="M1130.47,197.29 L1141.60,197.29 M1135.79,191.97 L1131.44,207.94 L1142.08,206.00 M1136.76,201.16 L1136.76,219.80 M1129.98,213.75 L1143.05,211.33 M1144.02,197.29 L1157.57,197.29 M1143.54,203.58 L1158.54,203.58 M1151.76,191.97 L1148.86,208.42 M1147.89,208.42 L1156.12,208.42 L1150.80,214.72 M1149.34,214.23 L1154.67,220.04" fill="none" stroke="#00ff00" stroke-width="2.10" stroke-linecap="square" stroke-linejoin="miter" />
<path d="M1163.47,199.71 L1175.08,199.71 M1169.76,191.97 L1169.76,219.07 L1166.86,217.14 M1163.47,213.26 L1175.08,206.97 M1189.60,192.94 L1178.47,196.81 M1178.47,196.81 L1178.47,207.94 L1175.57,219.56 M1178.47,204.55 L1191.06,204.55 M1184.76,204.55 L1184.76,220.04" fill="none" stroke="#00ff00" stroke-width="2.10" stroke-linecap="square" stroke-linejoin="miter" />
<path d="M1209.05,191.00 L1209.05,203.10 M1209.05,196.81 L1220.67,196.81 M1201.79,203.10 L1218.73,203.10 L1218.73,211.81 L1201.79,211.81 L1201.79,203.10 M1199.37,215.20 L1196.95,220.04 M1205.18,215.68 L1206.63,220.04 M1212.44,215.68 L1214.38,220.04 M1219.70,215.20 L1223.57,220.04" fill="none" stroke="#00ff00" stroke-width="2.10" stroke-linecap="square" stroke-linejoin="miter" />
<text x="1228" y="217.6" font-family="Liberation Sans, sans-serif" font-size="33" font-weight="bold" fill="#000" textLength="89" lengthAdjust="spacingAndGlyphs">26066</text>
<text x="1227" y="216.6" font-family="Liberation Sans, sans-serif" font-size="33" font-weight="bold" fill="#00ff00" textLength="89" lengthAdjust="spacingAndGlyphs">26066</text></g>
</g>
<g clip-path="url(#cmacd)" shape-rendering="crispEdges">
<g fill="#c0c0c0">
<rect x="13" y="643" width="2" height="104"/>
<rect x="29" y="641" width="2" height="106"/>
<rect x="45" y="648" width="2" height="99"/>
<rect x="61" y="649" width="2" height="98"/>
<rect x="77" y="639" width="2" height="108"/>
<rect x="93" y="632" width="2" height="115"/>
<rect x="109" y="628" width="2" height="119"/>
<rect x="125" y="626" width="2" height="121"/>
<rect x="141" y="621" width="2" height="126"/>
<rect x="157" y="613" width="2" height="134"/>
<rect x="173" y="609" width="2" height="138"/>
<rect x="189" y="615" width="2" height="132"/>
<rect x="205" y="620" width="2" height="127"/>
<rect x="221" y="627" width="2" height="120"/>
<rect x="237" y="634" width="2" height="113"/>
<rect x="253" y="629" width="2" height="118"/>
<rect x="269" y="624" width="2" height="123"/>
<rect x="285" y="624" width="2" height="123"/>
<rect x="301" y="611" width="2" height="136"/>
<rect x="317" y="601" width="2" height="146"/>
<rect x="333" y="597" width="2" height="150"/>
<rect x="349" y="595" width="2" height="152"/>
<rect x="365" y="593" width="2" height="154"/>
<rect x="381" y="596" width="2" height="151"/>
<rect x="397" y="596" width="2" height="151"/>
<rect x="413" y="594" width="2" height="153"/>
<rect x="429" y="595" width="2" height="152"/>
<rect x="445" y="600" width="2" height="147"/>
<rect x="461" y="605" width="2" height="142"/>
<rect x="477" y="614" width="2" height="133"/>
<rect x="493" y="619" width="2" height="128"/>
<rect x="509" y="620" width="2" height="127"/>
<rect x="525" y="634" width="2" height="113"/>
<rect x="541" y="646" width="2" height="101"/>
<rect x="557" y="662" width="2" height="85"/>
<rect x="573" y="680" width="2" height="67"/>
<rect x="589" y="694" width="2" height="53"/>
<rect x="605" y="708" width="2" height="39"/>
<rect x="621" y="710" width="2" height="37"/>
<rect x="637" y="717" width="2" height="30"/>
<rect x="653" y="717" width="2" height="30"/>
<rect x="669" y="717" width="2" height="30"/>
<rect x="685" y="713" width="2" height="34"/>
<rect x="701" y="711" width="2" height="36"/>
<rect x="717" y="707" width="2" height="40"/>
<rect x="733" y="707" width="2" height="40"/>
<rect x="749" y="713" width="2" height="34"/>
<rect x="765" y="708" width="2" height="39"/>
<rect x="781" y="719" width="2" height="28"/>
<rect x="797" y="727" width="2" height="20"/>
<rect x="813" y="733" width="2" height="14"/>
<rect x="829" y="737" width="2" height="10"/>
<rect x="845" y="741" width="2" height="6"/>
<rect x="861" y="738" width="2" height="9"/>
<rect x="877" y="732" width="2" height="15"/>
<rect x="893" y="723" width="2" height="24"/>
<rect x="909" y="711" width="2" height="36"/>
<rect x="925" y="705" width="2" height="42"/>
<rect x="941" y="697" width="2" height="50"/>
<rect x="957" y="688" width="2" height="59"/>
<rect x="973" y="681" width="2" height="66"/>
<rect x="989" y="677" width="2" height="70"/>
<rect x="1005" y="676" width="2" height="71"/>
<rect x="1021" y="682" width="2" height="65"/>
<rect x="1037" y="686" width="2" height="61"/>
<rect x="1053" y="690" width="2" height="57"/>
<rect x="1069" y="687" width="2" height="60"/>
<rect x="1085" y="684" width="2" height="63"/>
<rect x="1101" y="685" width="2" height="62"/>
<rect x="1117" y="684" width="2" height="63"/>
<rect x="1133" y="684" width="2" height="63"/>
<rect x="1149" y="681" width="2" height="66"/>
<rect x="1165" y="678" width="2" height="69"/>
<rect x="1181" y="679" width="2" height="68"/>
<rect x="1197" y="676" width="2" height="71"/>
<rect x="1213" y="678" width="2" height="69"/>
<rect x="1229" y="685" width="2" height="62"/>
<rect x="1245" y="687" width="2" height="60"/>
<rect x="1261" y="690" width="2" height="57"/>
<rect x="1277" y="692" width="2" height="55"/>
<rect x="1293" y="691" width="2" height="56"/>
<rect x="1309" y="700" width="2" height="47"/>
<rect x="1325" y="710" width="2" height="37"/>
<rect x="1341" y="711" width="2" height="36"/>
<rect x="1357" y="727" width="2" height="20"/>
<rect x="1373" y="732" width="2" height="15"/>
<rect x="1389" y="747" width="2" height="1"/>
<rect x="1405" y="747" width="2" height="11"/>
</g>
<polyline points="-1.5,676.5 0.5,675.0 5.8,671.0 11.5,668.5 17.9,665.0 23.7,662.0 29.8,659.0 35.8,657.0 41.9,655.0 47.9,653.0 53.7,651.5 62.9,649.8 78.5,647.5 94.1,645.0 109.7,642.4 126.3,639.7 142.3,636.8 158.5,632.9 174.1,629.7 190.7,626.8 211.2,622.5 222.9,621.9 254.1,622.9 278.1,621.9 291.8,623.1 295.7,621.9 321.0,621.9 328.8,620.5 340.5,619.2 350.3,616.7 365.9,612.8 382.5,608.9 399.1,604.0 414.7,601.5 430.3,599.1 445.9,596.8 455.6,596.8 462.5,598.1 478.5,600.1 494.5,602.0 510.5,605.0 520.5,607.9 534.1,611.8 541.9,613.7 558.5,622.5 574.5,632.3 584.8,637.1 600.5,648.9 622.5,665.4 635.5,672.3 654.5,686.9 670.5,694.3 686.3,702.5 702.3,707.4 718.5,710.3 733.1,712.6 791.6,712.6 803.8,714.6 825.2,717.1 838.9,721.0 856.5,724.4 877.9,727.9 894.5,729.4 910.5,729.4 926.5,727.9 942.3,724.5 958.3,720.1 974.5,714.6 990.5,707.0 1006.5,699.6 1022.5,694.3 1038.5,689.8 1050.0,688.8 1070.5,685.5 1086.5,684.6 1102.5,684.0 1118.5,684.9 1134.5,684.9 1150.5,685.9 1166.5,684.9 1182.5,684.9 1198.3,683.0 1214.3,682.0 1246.5,682.0 1262.5,683.0 1278.5,684.0 1294.5,684.9 1310.3,687.9 1326.5,690.8 1342.5,695.1 1358.5,699.0 1374.5,706.0 1390.5,710.3 1406.5,719.1" fill="none" stroke="#ff0000" stroke-width="1" stroke-dasharray="3 3"/>
</g>
<g clip-path="url(#crsi)" shape-rendering="crispEdges">
<line x1="-1" y1="801.5" x2="1626" y2="801.5" stroke="#c0c0c0" stroke-width="1" stroke-dasharray="3 3"/>
<line x1="-1" y1="848.5" x2="1626" y2="848.5" stroke="#c0c0c0" stroke-width="1" stroke-dasharray="3 3"/>
<line x1="-1" y1="904.5" x2="1626" y2="904.5" stroke="#c0c0c0" stroke-width="1" stroke-dasharray="3 3"/>
<polyline points="-1.5,831.5 0.5,830.9 14.5,826.5 30.5,828.5 47.4,838.4 62.9,833.1 79.0,824.0 118.9,824.0 126.4,825.1 142.5,819.7 157.6,816.9 174.8,816.9 190.9,829.8 224.3,829.8 238.3,832.6 254.4,820.1 269.5,818.0 286.7,822.7 302.8,812.0 323.3,812.0 331.9,813.7 353.4,813.7 366.3,811.6 383.5,819.6 402.9,813.7 413.7,812.5 430.9,814.2 448.1,817.8 463.2,818.5 479.3,825.6 510.5,817.8 526.6,839.6 542.8,840.6 575.1,855.7 590.1,854.6 606.3,857.9 622.8,842.6 638.5,850.3 654.7,841.7 670.8,842.8 687.0,836.8 702.3,838.9 718.5,834.6 734.6,838.9 750.8,846.9 766.9,835.7 783.0,854.6 815.3,853.5 830.4,850.8 845.5,851.8 862.7,843.7 879.9,838.9 894.9,833.1 911.1,825.4 927.2,832.9 943.4,828.8 959.5,826.0 968.1,824.5 991.8,824.5 1006.8,829.9 1023.0,841.1 1034.8,838.9 1055.3,839.8 1071.2,829.1 1088.2,829.1 1103.0,831.8 1118.9,830.2 1134.8,828.0 1150.7,823.0 1166.6,821.6 1183.2,829.6 1199.1,823.0 1215.0,831.0 1231.4,841.0 1247.3,836.0 1263.2,837.1 1279.1,834.8 1295.0,829.8 1311.0,849.1 1326.9,853.7 1342.8,842.1 1359.4,862.7 1375.3,851.8 1391.4,863.6 1406.2,860.9" fill="none" stroke="#1e90ff" stroke-width="1"/>
</g>
<g font-family="Liberation Sans, sans-serif" fill="#000">
<text transform="translate(1632.00,54.00) scale(0.9470,1)" font-size="9.5">26714.0</text>
<text transform="translate(1632.00,87.00) scale(0.9470,1)" font-size="9.5">26561.0</text>
<text transform="translate(1632.00,120.00) scale(0.9470,1)" font-size="9.5">26403.5</text>
<text transform="translate(1632.00,153.00) scale(0.9470,1)" font-size="9.5">26250.5</text>
<text transform="translate(1632.00,186.00) scale(0.9470,1)" font-size="9.5">26097.0</text>
<text transform="translate(1632.00,219.00) scale(0.9470,1)" font-size="9.5">25940.0</text>
<text transform="translate(1632.00,252.00) scale(0.9470,1)" font-size="9.5">25782.5</text>
<text transform="translate(1632.00,285.00) scale(0.9470,1)" font-size="9.5">25629.5</text>
<text transform="translate(1632.00,318.00) scale(0.9470,1)" font-size="9.5">25472.0</text>
<text transform="translate(1632.00,351.00) scale(0.9470,1)" font-size="9.5">25319.0</text>
<text transform="translate(1632.00,384.00) scale(0.9470,1)" font-size="9.5">25161.5</text>
<text transform="translate(1632.00,417.00) scale(0.9470,1)" font-size="9.5">25008.5</text>
<text transform="translate(1632.00,450.00) scale(0.9470,1)" font-size="9.5">24855.5</text>
<text transform="translate(1632.00,483.00) scale(0.9470,1)" font-size="9.5">24698.0</text>
<text transform="translate(1632.00,516.00) scale(0.9470,1)" font-size="9.5">24545.0</text>
<text transform="translate(1632.00,549.00) scale(0.9470,1)" font-size="9.5">24387.5</text>
<text transform="translate(1632.00,582.00) scale(0.9470,1)" font-size="9.5">24234.5</text>
<text transform="translate(1630.00,594.00) scale(0.9470,1)" font-size="9.5">418.03</text>
<text transform="translate(1630.00,751.00) scale(0.9470,1)" font-size="9.5">0.00</text>
<text transform="translate(1630.00,763.00) scale(0.9470,1)" font-size="9.5">-47.88</text>
<text transform="translate(1630.00,779.00) scale(0.9470,1)" font-size="9.5">100</text>
<text transform="translate(1630.00,805.00) scale(0.9470,1)" font-size="9.5">80</text>
<text transform="translate(1630.00,852.00) scale(0.9470,1)" font-size="9.5">50</text>
<text transform="translate(1630.00,908.00) scale(0.9470,1)" font-size="9.5">15</text>
<text transform="translate(1632.00,925.00) scale(0.9470,1)" font-size="9.5">0</text>
<text transform="translate(-3.00,941.00) scale(0.9470,1)" font-size="9.5">24 Jan 2019</text>
<text transform="translate(61.00,941.00) scale(0.9470,1)" font-size="9.5">29 Jan 2019</text>
<text transform="translate(125.00,941.00) scale(0.9470,1)" font-size="9.5">3 Feb 2019</text>
<text transform="translate(189.00,941.00) scale(0.9470,1)" font-size="9.5">7 Feb 2019</text>
<text transform="translate(253.00,941.00) scale(0.9470,1)" font-size="9.5">12 Feb 2019</text>
<text transform="translate(317.00,941.00) scale(0.9470,1)" font-size="9.5">17 Feb 2019</text>
<text transform="translate(381.00,941.00) scale(0.9470,1)" font-size="9.5">21 Feb 2019</text>
<text transform="translate(445.00,941.00) scale(0.9470,1)" font-size="9.5">26 Feb 2019</text>
<text transform="translate(509.00,941.00) scale(0.9470,1)" font-size="9.5">3 Mar 2019</text>
<text transform="translate(573.00,941.00) scale(0.9470,1)" font-size="9.5">7 Mar 2019</text>
<text transform="translate(637.00,941.00) scale(0.9470,1)" font-size="9.5">12 Mar 2019</text>
<text transform="translate(701.00,941.00) scale(0.9470,1)" font-size="9.5">17 Mar 2019</text>
<text transform="translate(765.00,941.00) scale(0.9470,1)" font-size="9.5">21 Mar 2019</text>
<text transform="translate(829.00,941.00) scale(0.9470,1)" font-size="9.5">26 Mar 2019</text>
<text transform="translate(893.00,941.00) scale(0.9470,1)" font-size="9.5">31 Mar 2019</text>
<text transform="translate(957.00,941.00) scale(0.9470,1)" font-size="9.5">4 Apr 2019</text>
<text transform="translate(1021.00,941.00) scale(0.9470,1)" font-size="9.5">9 Apr 2019</text>
<text transform="translate(1085.00,941.00) scale(0.9470,1)" font-size="9.5">14 Apr 2019</text>
<text transform="translate(1149.00,941.00) scale(0.9470,1)" font-size="9.5">18 Apr 2019</text>
<text transform="translate(1213.00,941.00) scale(0.9470,1)" font-size="9.5">24 Apr 2019</text>
<text transform="translate(1277.00,941.00) scale(0.9470,1)" font-size="9.5">29 Apr 2019</text>
<text transform="translate(1341.00,941.00) scale(0.9470,1)" font-size="9.5">3 May 2019</text>
<text transform="translate(1405.00,941.00) scale(0.9470,1)" font-size="9.5">8 May 2019</text>
<text transform="translate(13.00,40.00) scale(0.9867,1)" font-size="9.5">DJ30-,Daily&#160; 25924.0 26076.0 25797.0 25983.0</text>
<text transform="translate(2.00,595.30) scale(1.0001,1)" font-size="9.5">MACD(12,26,9) -26.70 72.58</text>
<text transform="translate(2.00,781.30) scale(0.9898,1)" font-size="9.5">RSI(14) 42.5728</text>
</g>
<polygon points="1,38.5 8,38.5 4.5,34.5" fill="#000"/>
<g shape-rendering="crispEdges">
<rect x="1628" y="153" width="41" height="11" fill="#ff0000"/>
<rect x="1628" y="168" width="41" height="11" fill="#ff0000"/>
<rect x="1628" y="182" width="41" height="11" fill="#32cd32"/>
<rect x="1628" y="201" width="41" height="11" fill="#000000"/>
<rect x="1628" y="227" width="41" height="11" fill="#0000ff"/>
<rect x="1628" y="251" width="41" height="11" fill="#0000ff"/>
</g>
<g font-family="Liberation Sans, sans-serif" font-size="9" fill="#fff">
<text transform="translate(1632.00,162.00) scale(0.9470,1)" font-size="9.5">26205.3</text>
<text transform="translate(1632.00,177.00) scale(0.9470,1)" font-size="9.5">26134.8</text>
<text transform="translate(1632.00,191.00) scale(0.9470,1)" font-size="9.5">26066.7</text>
<text transform="translate(1632.00,210.00) scale(0.9470,1)" font-size="9.5">25983.0</text>
<text transform="translate(1632.00,236.00) scale(0.9470,1)" font-size="9.5">25853.6</text>
<text transform="translate(1632.00,260.00) scale(0.9470,1)" font-size="9.5">25741.8</text>
</g>
<g id="panel"><defs><linearGradient id="gp" gradientUnits="userSpaceOnUse" x1="0" y1="48" x2="0" y2="112"><stop offset="0" stop-color="#5a5aff"/><stop offset="0.4" stop-color="#3a36e2"/><stop offset="1" stop-color="#0000b0"/></linearGradient></defs>
<g shape-rendering="crispEdges">
<path d="M1,48 H53 V72 H110 V112 H1 Z" fill="#0000a0"/>
<path d="M2,49 H52 V73 H110 V112 H2 Z" fill="url(#gp)"/>
<path d="M112,72 H168 V48 H221 V112 H112 Z" fill="#0000a0"/>
<path d="M113,73 H169 V49 H220 V112 H113 Z" fill="url(#gp)"/>
<rect x="5" y="71" width="45" height="1" fill="#00007a"/><rect x="5" y="72" width="45" height="1" fill="#7070ff"/>
<rect x="172" y="71" width="45" height="1" fill="#00007a"/><rect x="172" y="72" width="45" height="1" fill="#7070ff"/>
<rect x="55" y="48" width="111" height="22" fill="#a8a8a8"/>
<rect x="56" y="49" width="109" height="20" fill="#ffffff"/>
<rect x="56" y="49" width="20" height="20" fill="#e6e6e6"/><rect x="76" y="49" width="1" height="20" fill="#a8a8a8"/>
<rect x="145" y="49" width="20" height="20" fill="#e6e6e6"/><rect x="144" y="49" width="1" height="20" fill="#a8a8a8"/>
</g>
<path d="M62.5,57 H68.5 L65.5,60 Z" fill="#000"/>
<path d="M151.5,60 H157.5 L154.5,57 Z" fill="#000"/>
<text x="117.5" y="63" font-family="Liberation Sans, sans-serif" font-size="12" fill="#000">1.00</text>
<g font-family="Liberation Sans, sans-serif" fill="#f0f0ff">
<text x="13.5" y="64" font-size="12.5" textLength="26" lengthAdjust="spacingAndGlyphs">SELL</text>
<text x="181.5" y="64" font-size="12.5" textLength="24" lengthAdjust="spacingAndGlyphs">BUY</text>
</g>
<g font-family="Liberation Sans, sans-serif" fill="#ffffff">
<text x="17" y="103" font-size="12.5" font-weight="bold" textLength="34" lengthAdjust="spacingAndGlyphs">25981</text>
<text x="127" y="103" font-size="12.5" font-weight="bold" textLength="35" lengthAdjust="spacingAndGlyphs">25990</text>
<circle cx="59" cy="101.2" r="2.1" fill="#fff"/><circle cx="169.8" cy="101.2" r="2.1" fill="#fff"/>
<text x="63.5" y="103" font-size="33" textLength="15" lengthAdjust="spacingAndGlyphs">5</text>
<text x="174" y="103" font-size="33" textLength="15" lengthAdjust="spacingAndGlyphs">5</text>
</g></g>
</svg>
</body></html>
